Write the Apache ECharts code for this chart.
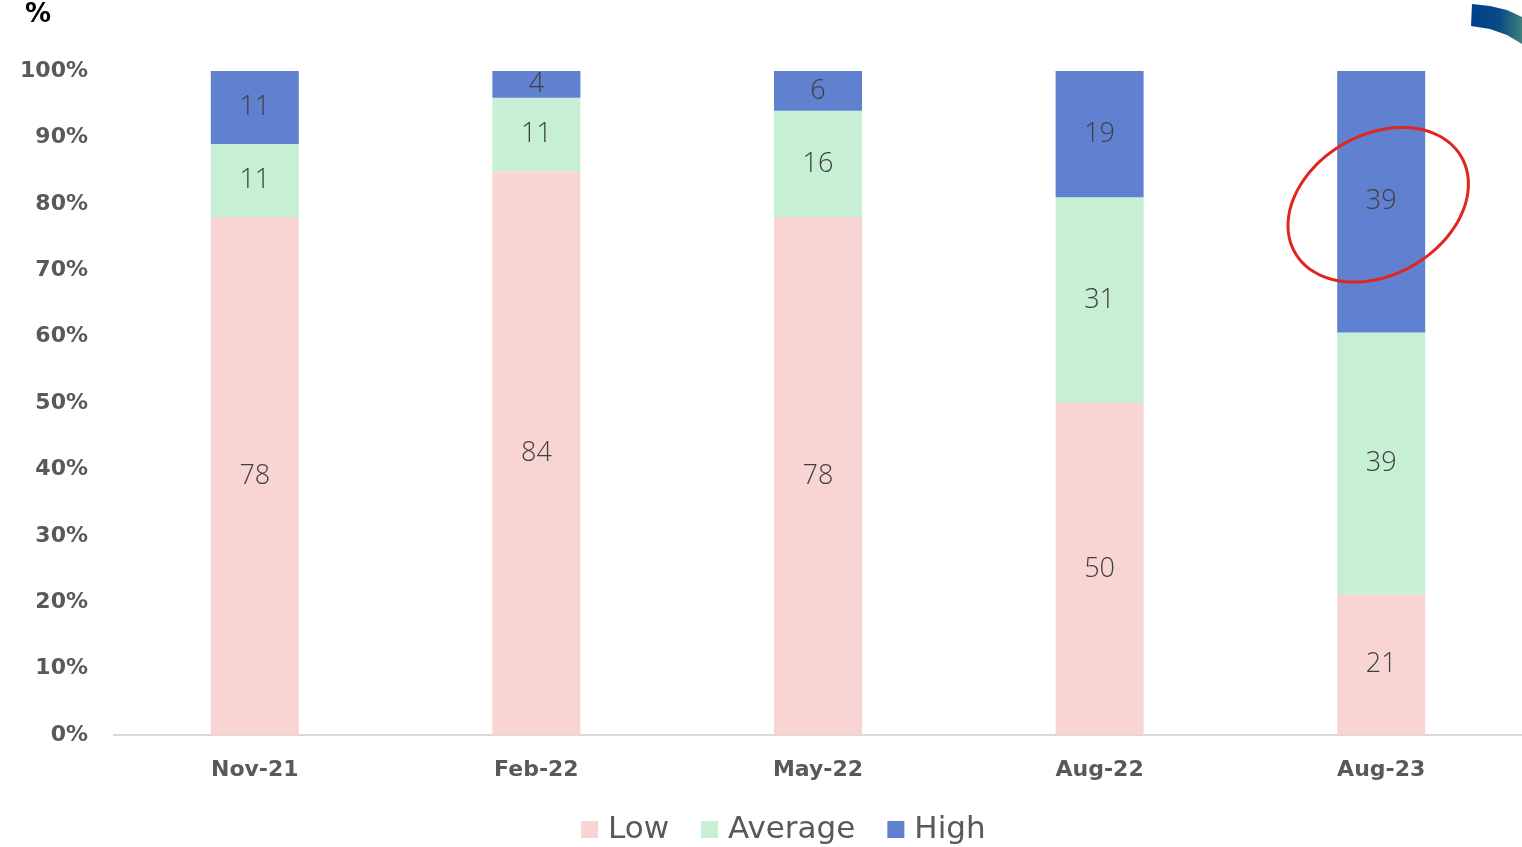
<!DOCTYPE html>
<html>
<head>
<meta charset="utf-8">
<script src="https://cdn.jsdelivr.net/npm/echarts@6/dist/echarts.min.js"></script>
<style>
  html, body { margin: 0; padding: 0; background: #fff; }
  #chart { width: 1522px; height: 847px; }
</style>
</head>
<body>
<div id="chart"></div>
<script>
// survey waves
const categories = ['Nov-21', 'Feb-22', 'May-22', 'Aug-22', 'Aug-23'];
// raw labelled values (%)
const lowValues = [78, 84, 78, 50, 21];
const averageValues = [11, 11, 16, 31, 39];
const highValues = [11, 4, 6, 19, 39];
const seriesNames = ['Low', 'Average', 'High'];
const seriesColors = ['#f8d5d2', '#c6efd3', '#6080d0'];

const FONT = '"DejaVu Sans", "Noto Sans", sans-serif';
const LABEL_FONT = '"Open Sans", "Noto Sans", sans-serif';

// 100% stacked: each column is scaled to sum to 100
const totals = categories.map((c, i) => lowValues[i] + averageValues[i] + highValues[i]);
function toShare(arr) {
    return arr.map((v, i) => ({ value: v / totals[i] * 100, raw: v }));
}

const rawSeries = [lowValues, averageValues, highValues];

let chart = echarts.init(document.getElementById('chart'));

let option = {
    animation: false,
    textStyle: { fontFamily: FONT },
    grid: { left: 114, right: 0, top: 71, bottom: 112, containLabel: false },
    legend: {
        bottom: -3,
        left: 576,
        icon: 'rect',
        itemWidth: 17,
        itemHeight: 17,
        itemGap: 32,
        data: seriesNames,
        textStyle: { fontSize: 31, color: '#595959', fontFamily: FONT, padding: [0, 0, 0, 5] }
    },
    xAxis: {
        type: 'category',
        data: categories,
        axisLine: { lineStyle: { color: '#d9d9d9', width: 2 } },
        axisTick: { show: false },
        axisLabel: { fontSize: 22, fontWeight: 'bold', color: '#595959', margin: 24, fontFamily: FONT }
    },
    yAxis: {
        type: 'value',
        min: 0,
        max: 100,
        interval: 10,
        axisLine: { show: false },
        axisTick: { show: false },
        splitLine: { show: false },
        axisLabel: { formatter: '{value}%', fontSize: 22, fontWeight: 'bold', color: '#595959', margin: 26, fontFamily: FONT }
    },
    series: seriesNames.map((name, k) => ({
        name: name,
        type: 'bar',
        stack: 'total',
        barWidth: 88,
        itemStyle: { color: seriesColors[k] },
        label: {
            show: true,
            position: 'inside',
            fontSize: 27,
            fontWeight: 300,
            color: '#404040',
            fontFamily: LABEL_FONT,
            formatter: (p) => String(p.data.raw)
        },
        data: toShare(rawSeries[k])
    })),
    graphic: [
        {
            type: 'text',
            left: 25,
            top: 2,
            style: { text: '%', fontSize: 26, fontWeight: 'bold', fill: '#000', fontFamily: FONT }
        },
        {
            type: 'polygon',
            shape: { points: [[1472, 4], [1490, 6], [1507, 10], [1522, 17], [1522, 44], [1507, 35], [1490, 29], [1471, 26]] },
            style: {
                fill: new echarts.graphic.LinearGradient(0, 0, 1, 0, [
                    { offset: 0, color: '#00428a' },
                    { offset: 0.55, color: '#0a4a86' },
                    { offset: 1, color: '#3f7f7a' }
                ])
            }
        }
    ]
};

chart.setOption(option);

// red ellipse annotation around the last "High" segment label
const last = categories.length - 1;
const midShare = (lowValues[last] + averageValues[last] + highValues[last] / 2) / totals[last] * 100;
const centre = chart.convertToPixel({ gridIndex: 0 }, [categories[last], midShare]);
const cx = centre[0] - 3, cy = centre[1] + 3;
const a = 96, b = 70, theta = 30 * Math.PI / 180;
let pts = [];
for (let i = 0; i < 120; i++) {
    let t = i / 120 * Math.PI * 2;
    let x = cx + a * Math.cos(t) * Math.cos(theta) - b * Math.sin(t) * Math.sin(theta);
    let y = cy - (a * Math.cos(t) * Math.sin(theta) + b * Math.sin(t) * Math.cos(theta));
    pts.push([x, y]);
}
option.graphic.push({
    type: 'polygon',
    shape: { points: pts },
    style: { fill: 'none', stroke: '#e0261f', lineWidth: 3 },
    z: 100
});
chart.setOption({ graphic: option.graphic });
</script>
</body>
</html>
